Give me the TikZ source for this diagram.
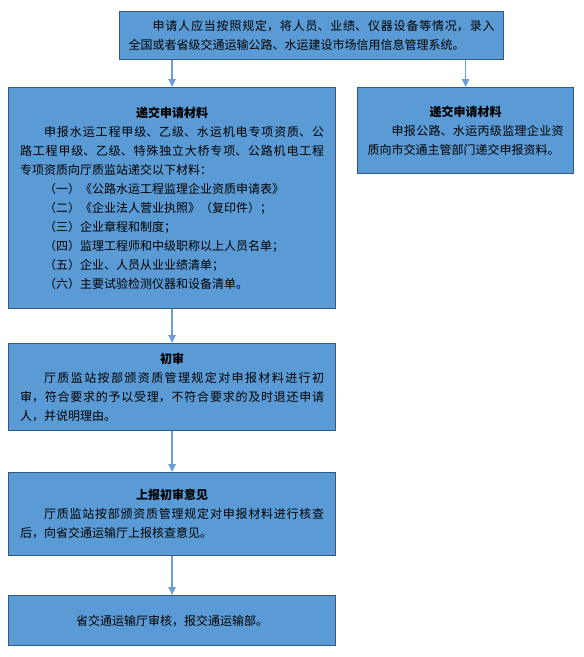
\documentclass[tikz,border=0pt]{standalone}
\usepackage{fontspec}
\setmainfont{Noto Sans CJK SC}
\usepackage{tikz}
\usetikzlibrary{arrows.meta,positioning}
\definecolor{boxfill}{HTML}{5B9BD5}
\definecolor{boxline}{HTML}{2F5A88}
\definecolor{arrblue}{HTML}{6A9FD6}
\XeTeXlinebreaklocale "zh"
\XeTeXlinebreakskip=0pt plus 1pt
\newcommand{\ind}{\hspace*{2em}}
\newcommand{\ttl}[1]{\makebox[\linewidth]{\bfseries #1}}

\begin{document}
\begin{tikzpicture}[x=0.75pt,y=-0.75pt,
    bx/.style={draw=boxline,fill=boxfill,line width=0.9pt,anchor=north west,
               inner sep=0pt,align=justify,
               font=\fontsize{9pt}{14.25pt}\selectfont},
    ar/.style={draw=arrblue,line width=1.1pt,-{Triangle[length=6pt,width=5.5pt]}}]
  \useasboundingbox (0,0) rectangle (583,657);

  % ================= entry into the system =================
  \node[bx,minimum width=288pt,minimum height=36pt,text width=274.5pt]
    (req) at (119,11)
    {\ind 申请人应当按照规定，将人员、业绩、仪器设备等情况，录入\linebreak
     全国或者省级交通运输公路、水运建设市场信用信息管理系统。};

  % ================= two submission routes =================
  \node[bx,minimum width=245.25pt,minimum height=165.75pt,text width=228pt]
    (sub1) at (8,87)
    {\ttl{递交申请材料}\\
     \ind 申报水运工程甲级、乙级、水运机电专项资质、公\linebreak
     路工程甲级、乙级、特殊独立大桥专项、公路机电工程\linebreak
     专项资质向厅质监站递交以下材料：\\
     \ind（一）《公路水运工程监理企业资质申请表》\\
     \ind（二）《企业法人营业执照》（复印件）；\\
     \ind（三）企业章程和制度；\\
     \ind（四）监理工程师和中级职称以上人员名单；\\
     \ind（五）企业、人员从业业绩清单；\\
     \ind（六）主要试验检测仪器和设备清单。};

  \node[bx,minimum width=162pt,minimum height=64.5pt,text width=147pt]
    (sub2) at (357,87)
    {\ttl{递交申请材料}\\
     \ind 申报公路、水运丙级监理企业资\linebreak
     质向市交通主管部门递交申报资料。};

  % ================= review chain =================
  \node[bx,minimum width=245.25pt,minimum height=65.25pt,text width=228pt]
    (pre) at (8,343)
    {\ttl{初审}\\
     \ind 厅质监站按部颁资质管理规定对申报材料进行初\linebreak
     审，符合要求的予以受理，不符合要求的及时退还申请\linebreak
     人，并说明理由。};

  \node[bx,minimum width=245.25pt,minimum height=62.25pt,text width=228pt]
    (rep) at (8,472)
    {\ttl{上报初审意见}\\
     \ind 厅质监站按部颁资质管理规定对申报材料进行核查\linebreak
     后，向省交通运输厅上报核查意见。};

  \node[bx,align=center,minimum width=245.25pt,minimum height=37.5pt]
    (fin) at (8,595) {省交通运输厅审核，报交通运输部。};

  % arrows
  \draw[ar] (req.south -| sub1.north) -- (sub1.north);
  \draw[ar] (req.south -| sub2.north) -- (sub2.north);
  \draw[ar] (sub1.south) -- (pre.north);
  \draw[ar] (pre.south) -- (rep.north);
  \draw[ar] (rep.south) -- (fin.north);
\end{tikzpicture}
\end{document}
